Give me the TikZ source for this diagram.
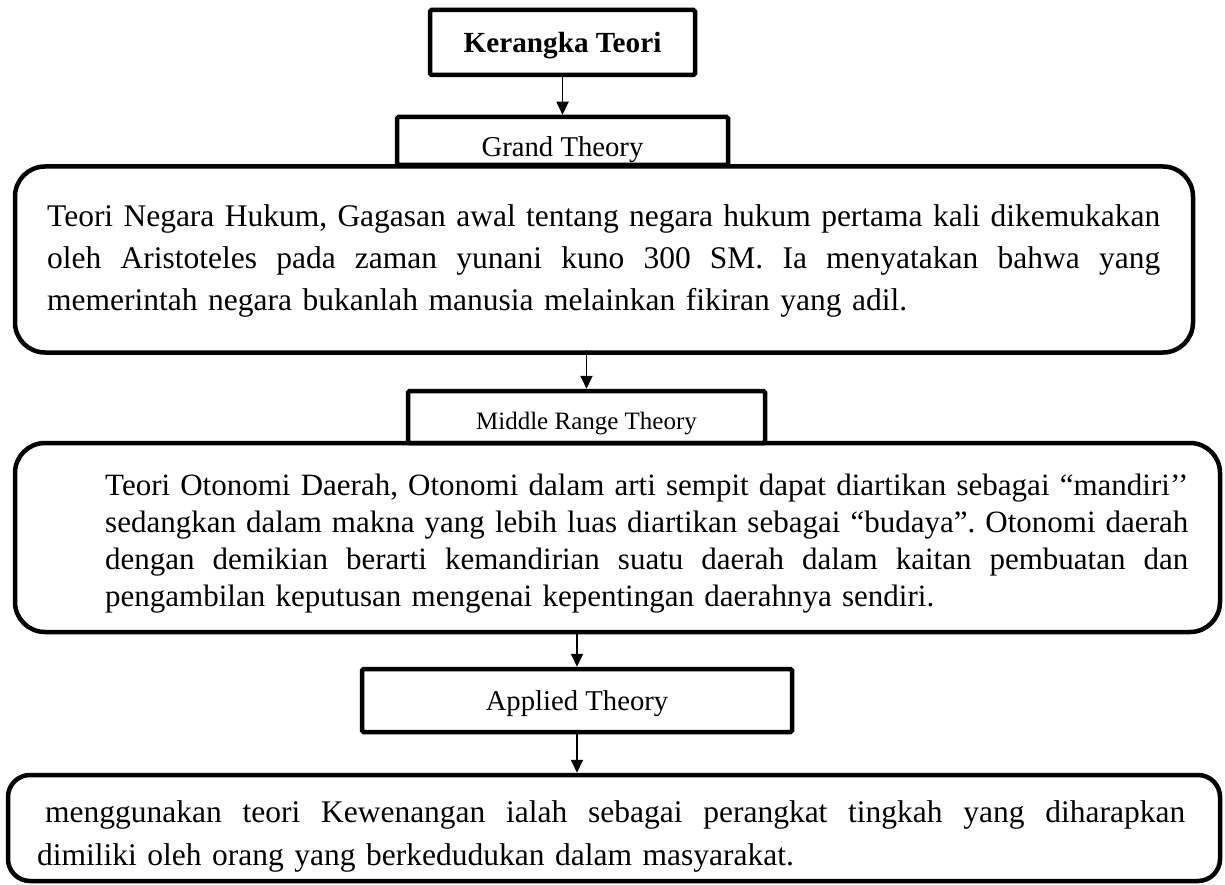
\documentclass[tikz,border=0pt]{standalone}
\usepackage{fontspec}
\setmainfont{Liberation Serif}
\usetikzlibrary{arrows.meta}
\frenchspacing
% one justified line, spaces spread evenly
\newcommand{\justline}[2]{\leavevmode\hbox to #1{\spaceskip=0.25em plus 1fil\relax#2}}

\begin{document}
\begin{tikzpicture}[x=1pt, y=-1pt,
    frame/.style={draw=black, fill=white, line width=4.5pt, rounded corners=1.5pt, inner sep=0pt, text depth=0pt},
    theorybox/.style={draw=black, line width=4.5pt, rounded corners=30pt, inner sep=0pt},
    body/.style={inner sep=0pt, anchor=base west, align=left},
    flow/.style={draw=black, line width=1.8pt, -{Triangle[length=13pt,width=12pt]}}
]
\useasboundingbox (0,0) rectangle (1225,885);

% Level labels
\node[frame, minimum width=265, minimum height=65, text height=21pt,
    font=\fontsize{29.2}{34}\selectfont\bfseries] (kerangka) at (562.5,42.5) {Kerangka Teori};
\node[frame, minimum width=331, minimum height=48, text height=32pt,
    font=\fontsize{28.7}{34}\selectfont] (grandlbl) at (562.5,141) {Grand Theory};
\node[frame, minimum width=357, minimum height=52, text height=24pt,
    font=\fontsize{25}{30}\selectfont] (midlbl) at (586.5,417) {Middle Range Theory};
\node[frame, minimum width=430, minimum height=63, text height=19pt,
    font=\fontsize{28.7}{34}\selectfont] (appliedlbl) at (577,700.5) {Applied Theory};

% Theory boxes
\node[theorybox, minimum width=1178, minimum height=186] (hukum) at (604,259.5) {};
\node[theorybox, minimum width=1205, minimum height=189] (otonomi) at (617.5,537.5) {};
\node[theorybox, rounded corners=22pt, minimum width=1212, minimum height=106] (kewenangan) at (614,828) {};

\node[body, text width=1113pt, font=\fontsize{31.5}{41.5}\selectfont] (hukumtxt) at (47,227)
    {\justline{1113pt}{Teori Negara Hukum, Gagasan awal tentang negara hukum pertama kali dikemukakan}\\
     \justline{1113pt}{oleh Aristoteles pada zaman yunani kuno 300 SM. Ia menyatakan bahwa yang}\\
     memerintah negara bukanlah manusia melainkan fikiran yang adil.};
\node[body, text width=1083pt, font=\fontsize{31}{37}\selectfont] (otonomitxt) at (105,495)
    {\justline{1083pt}{Teori Otonomi Daerah, Otonomi dalam arti sempit dapat diartikan sebagai “mandiri’’}\\
     \justline{1083pt}{sedangkan dalam makna yang lebih luas diartikan sebagai “budaya”. Otonomi daerah}\\
     \justline{1083pt}{dengan demikian berarti kemandirian suatu daerah dalam kaitan pembuatan dan}\\
     pengambilan keputusan mengenai kepentingan daerahnya sendiri.};
\node[body, text width=1148pt, font=\fontsize{31.5}{43}\selectfont] (kewenangantxt) at (37,822)
    {\hspace*{8pt}\justline{1140pt}{menggunakan teori Kewenangan ialah sebagai perangkat tingkah yang diharapkan}\\
     dimiliki oleh orang yang berkedudukan dalam masyarakat.};

% Connectors
\draw[flow] (kerangka.south) -- (grandlbl.north);
\draw[flow] ([yshift=5pt]midlbl.north |- hukum.south) -- (midlbl.north);
\draw[flow] (appliedlbl.north |- otonomi.south) -- (appliedlbl.north);
\draw[flow] (appliedlbl.south) -- (appliedlbl.south |- kewenangan.north);
\end{tikzpicture}
\end{document}
